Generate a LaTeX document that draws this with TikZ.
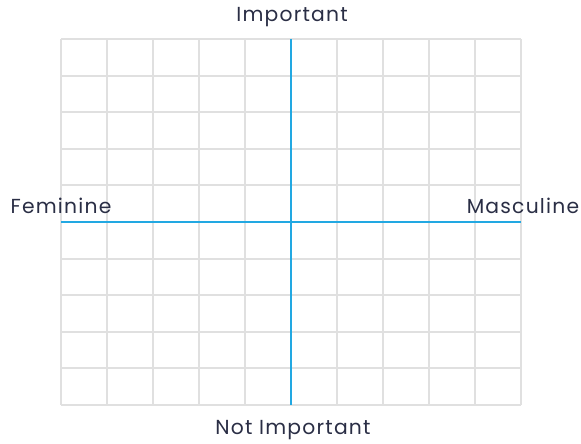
\documentclass[tikz,border=0pt]{standalone}
\usepackage{fontspec}
\setmainfont{Poppins}[LetterSpace=6]
\usepackage{xcolor}
\usetikzlibrary{positioning}
\definecolor{gridgray}{HTML}{E0E0E0}
\definecolor{axisblue}{HTML}{22A8E2}
\definecolor{labelnavy}{HTML}{2A2E45}

\begin{document}
\begin{tikzpicture}[x=1pt,y=-1pt,font=\fontsize{20.3}{24}\selectfont,
    gridline/.style={gridgray,line width=2pt},
    axisline/.style={axisblue,line width=2pt},
    axislabel/.style={text=labelnavy,inner sep=0pt,anchor=base}]
        \useasboundingbox (0,0) rectangle (581,444);
        % 10 x 10 grid behind the axes
        \foreach \i in {0,...,10} {
          \draw[gridline] (61+46*\i,39) -- (61+46*\i,405);
          \draw[gridline] (61,39+36.6*\i) -- (521,39+36.6*\i);
        }
        \coordinate (top) at (291,39);
        \coordinate (bottom) at (291,405);
        \coordinate (left) at (61,222);
        \coordinate (right) at (521,222);
        \draw[axisline] (top) -- (bottom);
        \draw[axisline] (left) -- (right);
        \node[axislabel] (imp) at (292,22) {Important};
        \node[axislabel] (notimp) at (293,434) {Not Important};
        \node[axislabel] (fem) at (61,213) {Feminine};
        \node[axislabel] (masc) at (523,213) {Masculine};
      \end{tikzpicture}
\end{document}
